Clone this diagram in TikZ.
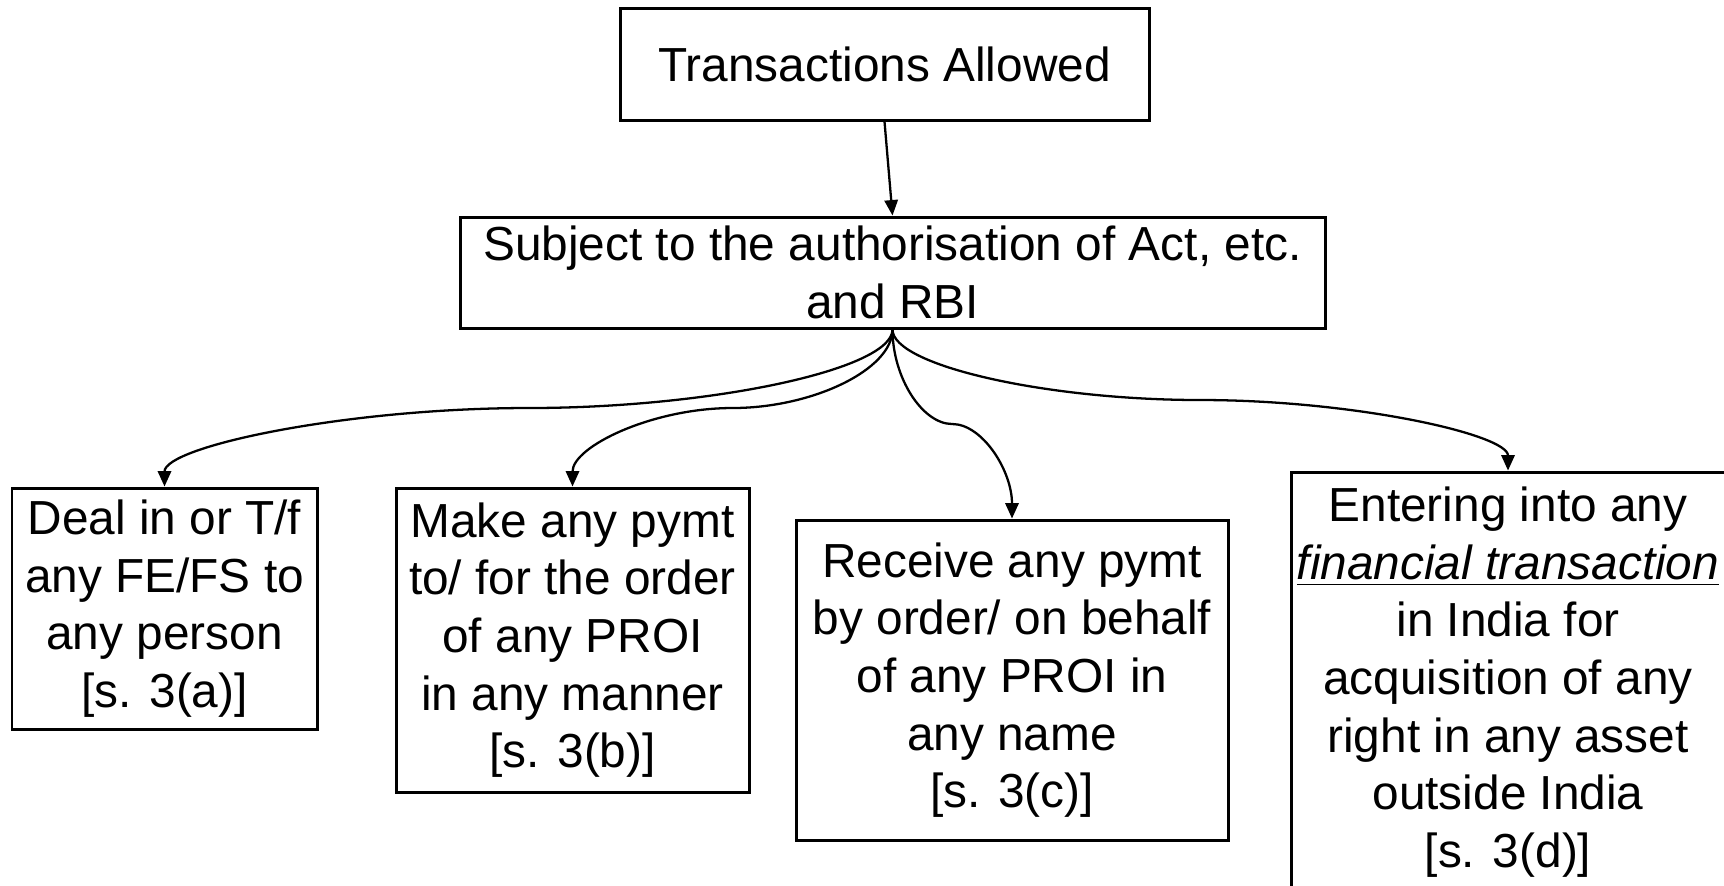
\documentclass[tikz,border=0pt]{standalone}
\usepackage{fontspec}
\setmainfont{Liberation Sans}
\usetikzlibrary{positioning,arrows.meta,calc}

\tikzset{
  box/.style={draw, line width=0.85pt, align=center, inner sep=1pt,
    font=\fontsize{13.6pt}{16.4pt}\selectfont},
  link/.style={line width=0.65pt, -{Triangle[length=4.4pt,width=3.8pt]}}
}

\begin{document}
\begin{tikzpicture}
	\useasboundingbox (0,0) rectangle (17.24,-8.85);
	% top of the tree
	\node[box, minimum width=5.29cm, minimum height=1.12cm] (allowed) at (8.845,-0.64) {Transactions Allowed};
	\node[box, minimum width=8.65cm, minimum height=1.11cm] (subject) at (8.925,-2.725) {Subject to the authorisation of Act, etc.\\ and RBI};
	% the four transactions
	\node[box, minimum width=3.05cm, minimum height=2.41cm] (dealA) at (1.645,-6.085) {Deal in or T/f\\ any FE/FS to\\ any person\\ {[s. 3(a)]}};
	\node[box, minimum width=3.53cm, minimum height=3.04cm] (pymtB) at (5.725,-6.40) {Make any pymt\\ to/ for the order\\ of any PROI\\ in any manner\\ {[s. 3(b)]}};
	\node[box, minimum width=4.32cm, minimum height=3.20cm] (recvC) at (10.12,-6.80) {Receive any pymt\\ by order/ on behalf\\ of any PROI in\\ any name\\ {[s. 3(c)]}};
	\node[box, minimum width=4.34cm, minimum height=4.20cm] (assetD) at (15.08,-6.82) {Entering into any\\ \underline{\textit{financial transaction}}\\ in India for\\ acquisition of any\\ right in any asset\\ outside India\\ {[s. 3(d)]}};

	\draw[link] (allowed.south) -- (subject.north);
	\draw[link] (subject.south) .. controls +(0,-0.4) and +(1.82,0) .. ($(subject.south)!0.5!(dealA.north)$) .. controls +(-1.82,0) and +(0,0.4) .. (dealA.north);
	\draw[link] (subject.south) .. controls +(0,-0.4) and +(0.8,0) .. ($(subject.south)!0.5!(pymtB.north)$) .. controls +(-0.8,0) and +(0,0.4) .. (pymtB.north);
	\draw[link] (subject.south) .. controls +(0,-0.48) and +(-0.3,0) .. ($(subject.south)!0.5!(recvC.north)$) .. controls +(0.3,0) and +(0,0.48) .. (recvC.north);
	\draw[link] (subject.south) .. controls +(0,-0.36) and +(-1.54,0) .. ($(subject.south)!0.5!(assetD.north)$) .. controls +(1.54,0) and +(0,0.36) .. (assetD.north);
\end{tikzpicture}
\end{document}
